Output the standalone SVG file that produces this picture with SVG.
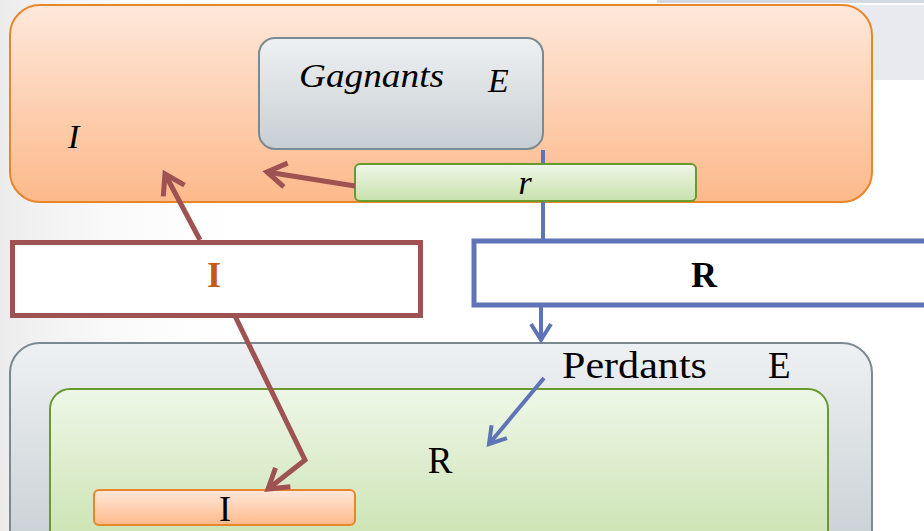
<svg xmlns="http://www.w3.org/2000/svg" width="924" height="531" viewBox="0 0 924 531">
<defs>
<linearGradient id="gOrange" x1="0" y1="0" x2="0" y2="1"><stop offset="0" stop-color="#fee8db"/><stop offset="1" stop-color="#fdb98a"/></linearGradient>
<linearGradient id="gGray" x1="0" y1="0" x2="0" y2="1"><stop offset="0" stop-color="#eef1f3"/><stop offset="1" stop-color="#c7ced3"/></linearGradient>
<linearGradient id="gGreen" x1="0" y1="0" x2="0" y2="1"><stop offset="0" stop-color="#eef7e8"/><stop offset="1" stop-color="#c8e1ad"/></linearGradient>
<linearGradient id="gBg" x1="0" y1="0" x2="1" y2="0"><stop offset="0" stop-color="#ececec"/><stop offset="1" stop-color="#ffffff" stop-opacity="0"/></linearGradient>
<marker id="aRed" markerUnits="userSpaceOnUse" viewBox="0 0 24 28" markerWidth="24" markerHeight="28" refX="21" refY="14" orient="auto" overflow="visible">
<path d="M2,2 L21,14 L2,26" fill="none" stroke="#9e5252" stroke-width="5" stroke-linejoin="miter"/>
</marker>
<marker id="aBlue" markerUnits="userSpaceOnUse" viewBox="0 0 20 24" markerWidth="20" markerHeight="24" refX="18" refY="12" orient="auto" overflow="visible">
<path d="M2,2 L18,12 L2,22" fill="none" stroke="#5f74b6" stroke-width="4"/>
</marker>
</defs>
<style>
.t{font-family:"Liberation Serif","DejaVu Serif",serif;fill:#000}
.it{font-style:italic}
.red{fill:none;stroke:#9e5252;stroke-width:5}
.blue{fill:none;stroke:#5f74b6;stroke-width:4}
</style>
<rect x="0" y="0" width="924" height="531" fill="#ffffff"/>
<rect x="0" y="0" width="260" height="531" fill="url(#gBg)"/>
<rect x="657" y="0" width="267" height="3" fill="#d3d8e3"/>
<rect x="657" y="5" width="267" height="75" fill="#e9eaf0"/>

<g id="gagnants-outer">
<rect x="10" y="5" width="862" height="197" rx="30" fill="url(#gOrange)" stroke="#e8862a" stroke-width="2"/>
<text class="t it" x="68" y="148" font-size="34">I</text>
</g>
<g id="connectors-back">
<line class="blue" x1="543" y1="150" x2="543" y2="240"/>
</g>
<g id="gagnants">
<rect x="259" y="38" width="284" height="111" rx="16" fill="url(#gGray)" stroke="#7b8a90" stroke-width="2"/>
<text class="t it" x="299" y="87" font-size="34" textLength="145" lengthAdjust="spacingAndGlyphs">Gagnants</text>
<text class="t it" x="488" y="92" font-size="34">E</text>
</g>
<g id="r-box">
<rect x="355" y="164" width="341" height="37" rx="5" fill="url(#gGreen)" stroke="#6b9a2c" stroke-width="2"/>
<text class="t it" x="525" y="194" font-size="34" text-anchor="middle">r</text>
</g>
<g id="I-box">
<rect x="12.5" y="242.5" width="408" height="73" fill="#ffffff" stroke="#9e5252" stroke-width="5"/>
<text class="t" x="214" y="287" font-size="36" font-weight="bold" fill="#c55a11" style="fill:#c55a11" text-anchor="middle">I</text>
</g>
<g id="R-box">
<rect x="474" y="241" width="460" height="64" fill="#ffffff" stroke="#5f74b6" stroke-width="5"/>
<text class="t" x="704" y="287" font-size="36" font-weight="bold" text-anchor="middle">R</text>
</g>
<g id="perdants">
<rect x="10" y="343" width="862" height="220" rx="30" fill="url(#gGray)" stroke="#7b8a90" stroke-width="2"/>
<text class="t" x="562" y="378" font-size="37" textLength="145" lengthAdjust="spacingAndGlyphs">Perdants</text>
<text class="t" x="768" y="378" font-size="37">E</text>
</g>
<g id="R-inner">
<rect x="50" y="389" width="778" height="170" rx="20" fill="url(#gGreen)" stroke="#6b9a2c" stroke-width="2"/>
<text class="t" x="440" y="473" font-size="37" text-anchor="middle">R</text>
</g>
<g id="I-inner">
<rect x="94" y="490" width="261" height="35" rx="5" fill="url(#gOrange)" stroke="#e8862a" stroke-width="2"/>
<text class="t" x="225" y="521" font-size="36" text-anchor="middle">I</text>
</g>
<g id="connectors">
<line class="red" x1="355" y1="186" x2="267" y2="172" marker-end="url(#aRed)"/>
<line class="red" x1="200" y1="240" x2="165" y2="174" marker-end="url(#aRed)"/>
<polyline class="red" points="235,316 305,460 268,489" marker-end="url(#aRed)"/>
<line class="blue" x1="541" y1="306" x2="541" y2="340" marker-end="url(#aBlue)"/>
<line class="blue" x1="544" y1="378" x2="489" y2="444" marker-end="url(#aBlue)"/>
</g>
</svg>
